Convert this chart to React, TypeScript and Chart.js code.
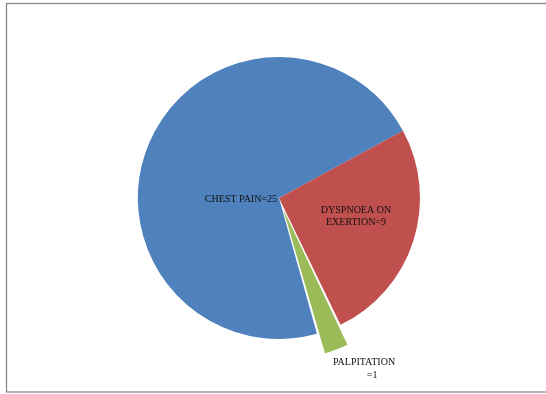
import React, { useEffect, useRef } from "react";
import { Chart, registerables } from "chart.js";

Chart.register(...registerables);

const categories = ["CHEST PAIN", "DYSPNOEA ON EXERTION", "PALPITATION"];
const values = [25, 9, 1];
const colors = ["#4F81BD", "#C0504D", "#9BBB59"];
const explode = [0, 0, 46];
const labelLines = [
  [`${categories[0]}=${values[0]}`],
  ["DYSPNOEA ON", `EXERTION=${values[1]}`],
  [categories[2], `=${values[2]}`],
];
// label anchor positions relative to pie centre, in units of radius (per line)
const labelAnchors = [
  [[-0.27, 0.01]],
  [[0.546, 0.085], [0.546, 0.17]],
  [[0.603, 1.168], [0.66, 1.26]],
];

const labelPlugin = {
  id: "pieLabels",
  afterDatasetsDraw(chart: any) {
    const ctx = chart.ctx;
    const meta = chart.getDatasetMeta(0);
    ctx.save();
    ctx.font = "10px 'Liberation Serif', 'DejaVu Serif', serif";
    ctx.fillStyle = "#111111";
    ctx.textAlign = "center";
    ctx.textBaseline = "middle";
    meta.data.forEach((arc: any, i: number) => {
      const { x, y, outerRadius } = arc.getProps(["x", "y", "outerRadius"], true);
      labelLines[i].forEach((line, j) => {
        const [fx, fy] = labelAnchors[i][j];
        ctx.fillText(line, x + fx * outerRadius, y + fy * outerRadius);
      });
    });
    ctx.restore();
  },
};

const framePlugin = {
  id: "frame",
  beforeDraw(chart: any) {
    const ctx = chart.ctx;
    ctx.save();
    ctx.fillStyle = "#ffffff";
    ctx.fillRect(0, 0, chart.width, chart.height);
    ctx.restore();
  },
  afterDraw(chart: any) {
    const ctx = chart.ctx;
    ctx.save();
    ctx.strokeStyle = "#8a8a8a";
    ctx.lineWidth = 1.3;
    ctx.strokeRect(6.5, 3.5, 560, 388.5);
    ctx.restore();
  },
};

export default function App() {
  const ref = useRef<HTMLCanvasElement>(null);
  useEffect(() => {
    if (!ref.current) return;
    const chart = new Chart(ref.current, {
      type: "pie",
      data: {
        labels: categories,
        datasets: [
          {
            data: values,
            backgroundColor: colors,
            borderWidth: 0,
            offset: explode,
          },
        ],
      },
      options: {
        responsive: false,
        animation: false,
        rotation: 164.4,
        radius: 141,
        layout: { padding: { left: 12, right: 0, top: 2, bottom: 0 } },
        plugins: {
          legend: { display: false },
          tooltip: { enabled: false },
        },
      },
      plugins: [labelPlugin, framePlugin],
    });
    return () => chart.destroy();
  }, []);
  return (
    <div style={{ position: "absolute", left: 0, top: 0, width: 546, height: 394 }}>
      <canvas ref={ref} width={546} height={394} style={{ display: "block" }} />
    </div>
  );
}
